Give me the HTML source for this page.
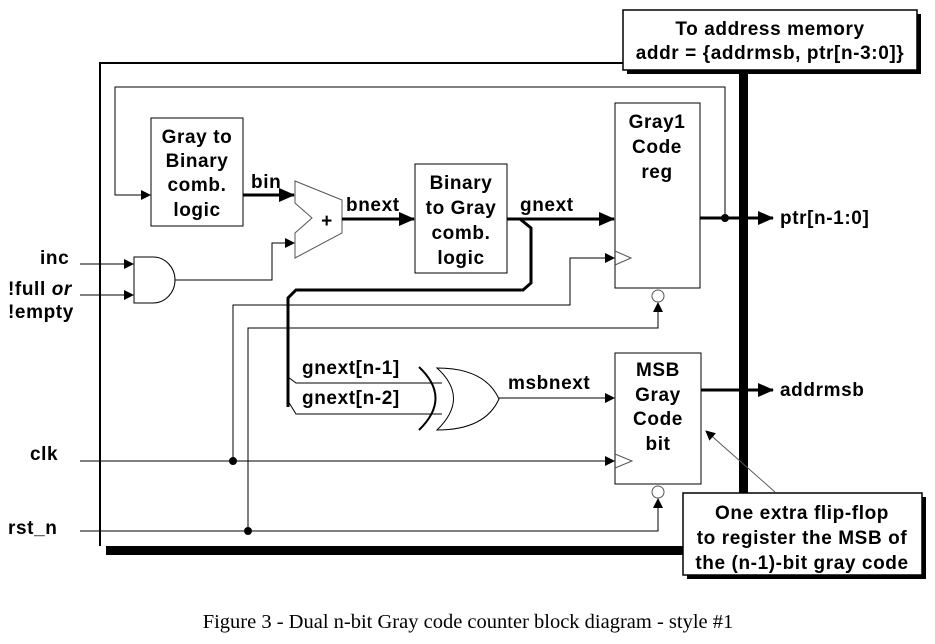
<!DOCTYPE html>
<html><head><style>body{margin:0;background:#fff}svg{display:block}</style></head><body>
<svg width="935" height="644" viewBox="0 0 935 644" xmlns="http://www.w3.org/2000/svg">
<defs><marker id="a" markerWidth="10" markerHeight="10" refX="9" refY="5" orient="auto" markerUnits="userSpaceOnUse"><path d="M0,0 L10,5 L0,10z" fill="#000"/></marker>
<marker id="b" markerWidth="16" markerHeight="14" refX="15" refY="7" orient="auto" markerUnits="userSpaceOnUse"><path d="M0,0 L16,7 L0,14z" fill="#000"/></marker></defs>
<g fill="none" stroke="#000">
<rect x="106" y="546" width="642" height="9" fill="#000" stroke="none"/>
<rect x="739" y="70" width="9" height="485" fill="#000" stroke="none"/>
<path d="M100,546 V63 H623" stroke-width="2"/>
<path d="M725,218 V87 H115 V195 H150" stroke-width="1" marker-end="url(#a)"/>
<rect x="151" y="118" width="92" height="108" fill="#fff"/>
<path d="M243,195 H294" stroke-width="3" marker-end="url(#b)"/>
<path d="M295,181 L342,200 V233 L295,258 V233 L312,218 L295,203 Z" stroke="#555" fill="#fff"/>
<path d="M342,219 H414" stroke-width="3" marker-end="url(#b)"/>
<rect x="415" y="164" width="92" height="109" fill="#fff"/>
<path d="M80,264 H133" marker-end="url(#a)"/><path d="M80,295 H133" marker-end="url(#a)"/>
<path d="M134,257 H153 A22,23 0 0 1 153,303 H134 Z" fill="#fff"/>
<path d="M175,280 H272 V243 H294" marker-end="url(#a)"/>
<path d="M507,219 H614" stroke-width="3" marker-end="url(#b)"/>
<path d="M520,219 L531,228 V283 L523,290 H296 L288,298 V407" stroke-width="3"/>
<path d="M288,377 L296,383 H442 M288,401 L296,414 H442"/>
<path d="M419,367 Q452,398 419,430" stroke-width="2"/>
<path d="M437,368 Q470,398 437,430 Q485,430 499,399 Q485,368 437,368 Z" fill="#fff"/>
<path d="M499,398 H614" marker-end="url(#a)"/>
<rect x="615" y="103" width="85" height="185" fill="#fff"/>
<rect x="615" y="353" width="86" height="131" fill="#fff"/>
<path d="M615,251 L631,258 L615,265" stroke="#555"/>
<path d="M615,454 L632,461 L615,468" stroke="#555"/>
<circle cx="658" cy="296" r="6" stroke="#555"/>
<circle cx="658" cy="492" r="6" stroke="#555"/>
<path d="M233,461 V305 H570 V258 H614" marker-end="url(#a)"/>
<path d="M80,461 H614" marker-end="url(#a)"/>
<path d="M248,531 V328 H658 V303" marker-end="url(#a)"/>
<path d="M80,531 H658 V499" marker-end="url(#a)"/>
<circle cx="233" cy="461" r="3.5" fill="#000"/><circle cx="248" cy="531" r="3.5" fill="#000"/>
<path d="M700,218 H773" stroke-width="3" marker-end="url(#b)"/>
<circle cx="725" cy="218" r="3.5" fill="#000"/>
<path d="M701,390 H773" stroke-width="3" marker-end="url(#b)"/>
<rect x="627" y="14" width="294" height="60" fill="#000" stroke="none"/>
<rect x="623" y="10" width="294" height="60" fill="#fff" stroke-width="1.5"/>
<path d="M775,492 L706,431" stroke="#555" marker-end="url(#a)"/>
<rect x="687" y="497" width="239" height="82" fill="#000" stroke="none"/>
<rect x="683" y="493" width="239" height="82" fill="#fff" stroke-width="1.5"/>
</g>
<g font-family="Liberation Sans, sans-serif" font-weight="bold" font-size="19" letter-spacing="0.6" text-anchor="middle">
<text x="197" y="143">Gray to</text><text x="197" y="167">Binary</text><text x="197" y="191">comb.</text><text x="197" y="216">logic</text>
<text x="461" y="189">Binary</text><text x="461" y="214">to Gray</text><text x="461" y="239">comb.</text><text x="461" y="264">logic</text>
<text x="327" y="227">+</text>
<text x="657" y="128">Gray1</text><text x="657" y="153">Code</text><text x="657" y="178">reg</text>
<text x="658" y="376">MSB</text><text x="658" y="401">Gray</text><text x="658" y="425">Code</text><text x="658" y="450">bit</text>
<text x="770" y="35">To address memory</text><text x="770" y="59">addr = {addrmsb, ptr[n-3:0]}</text>
<text x="802" y="519">One extra flip-flop</text><text x="802" y="544">to register the MSB of</text><text x="802" y="569">the (n-1)-bit gray code</text>
</g>
<g font-family="Liberation Sans, sans-serif" font-weight="bold" font-size="19" letter-spacing="0.6">
<text x="251" y="188">bin</text><text x="346" y="211">bnext</text><text x="520" y="211">gnext</text>
<text x="302" y="374">gnext[n-1]</text><text x="302" y="404">gnext[n-2]</text><text x="508" y="389">msbnext</text>
<text x="780" y="224">ptr[n-1:0]</text><text x="780" y="396">addrmsb</text>
<text x="40" y="264">inc</text><text x="8" y="295">!full <tspan font-style="italic">or</tspan></text><text x="8" y="318">!empty</text>
<text x="30" y="460">clk</text><text x="8" y="534">rst_n</text>
</g>
<text x="468" y="628" text-anchor="middle" font-family="Liberation Serif, serif" font-size="20.5">Figure 3 - Dual n-bit Gray code counter block diagram - style #1</text>
</svg>
</body></html>
